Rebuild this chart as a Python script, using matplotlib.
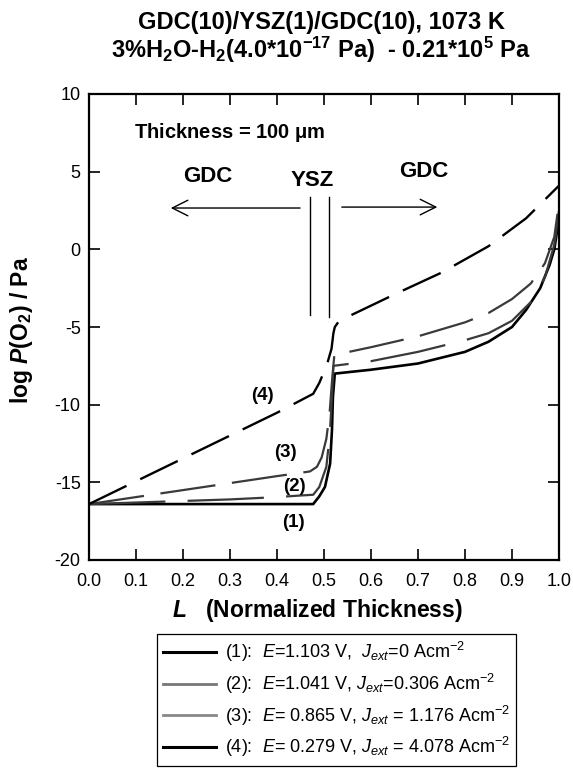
import matplotlib
matplotlib.use("Agg")
import matplotlib.pyplot as plt
from matplotlib.lines import Line2D

plt.rcParams['font.family'] = ['Liberation Sans', 'DejaVu Sans']
plt.rcParams['mathtext.fontset'] = 'custom'
plt.rcParams['mathtext.rm'] = 'Liberation Sans'
plt.rcParams['mathtext.it'] = 'Liberation Sans:italic'
plt.rcParams['mathtext.bf'] = 'Liberation Sans:bold'
plt.rcParams['mathtext.sf'] = 'Liberation Sans:bold:italic'
plt.rcParams['lines.scale_dashes'] = False
plt.rcParams['axes.unicode_minus'] = False

# ---- data ----
L1 = [0.0, 0.1, 0.2, 0.3, 0.4, 0.477, 0.49, 0.502, 0.513, 0.517, 0.519, 0.523,
      0.6, 0.7, 0.8, 0.85, 0.9, 0.93, 0.96, 0.98, 0.99, 1.0]
P1 = [-16.4, -16.4, -16.4, -16.4, -16.4, -16.4, -15.9, -15.3, -13.8, -11.6, -9.5, -8.0,
      -7.75, -7.35, -6.6, -5.95, -5.0, -3.9, -2.5, -1.0, 0.0, 2.0]

L2 = [0.0, 0.1, 0.2, 0.3, 0.4, 0.449, 0.477, 0.49, 0.505, 0.512, 0.516, 0.52,
      0.6, 0.7, 0.8, 0.85, 0.9, 0.94, 0.97, 0.99, 1.0]
P2 = [-16.4, -16.3, -16.2, -16.1, -15.95, -15.85, -15.8, -15.3, -14.0, -12.0, -10.0, -7.5,
      -7.2, -6.6, -5.85, -5.4, -4.6, -3.4, -1.8, 0.3, 2.5]

L3 = [0.0, 0.1, 0.2, 0.3, 0.4, 0.47, 0.485, 0.495, 0.505, 0.512, 0.517, 0.522,
      0.6, 0.7, 0.8, 0.85, 0.9, 0.94, 0.97, 0.99, 1.0]
P3 = [-16.4, -15.95, -15.5, -15.05, -14.6, -14.3, -14.0, -13.4, -12.2, -10.5, -8.5, -6.8,
      -6.3, -5.6, -4.7, -4.1, -3.2, -2.2, -0.9, 0.8, 3.0]

L4 = [0.0, 0.1, 0.2, 0.3, 0.4, 0.477, 0.49, 0.506, 0.516, 0.52, 0.523, 0.53, 0.55,
      0.65, 0.75, 0.85, 0.93, 1.0]
P4 = [-16.4, -14.93, -13.46, -11.99, -10.52, -9.3, -8.6, -7.45, -6.4, -5.4, -5.0, -4.7, -4.35,
      -2.9, -1.5, 0.2, 2.0, 4.1]

curve_labels = ['(1)', '(2)', '(3)', '(4)']
legend_texts = [
    r'(1):  $E$=1.103 V,  $J_{ext}$=0 Acm$^{-2}$',
    r'(2):  $E$=1.041 V, $J_{ext}$=0.306 Acm$^{-2}$',
    r'(3):  $E$= 0.865 V, $J_{ext}$ = 1.176 Acm$^{-2}$',
    r'(4):  $E$= 0.279 V, $J_{ext}$ = 4.078 Acm$^{-2}$',
]
xticks = [0.0, 0.1, 0.2, 0.3, 0.4, 0.5, 0.6, 0.7, 0.8, 0.9, 1.0]
yticks = [-20, -15, -10, -5, 0, 5, 10]

# ---- figure ----
W, H = 573, 768
fig = plt.figure(figsize=(W / 100, H / 100), dpi=100)
ax = fig.add_axes([89 / W, 1 - 560 / H, (559 - 89) / W, (560 - 94) / H])

ax.plot(L1, P1, color='black', lw=1.9, solid_joinstyle='round')
ax.plot(L2, P2, color='#3a3a3a', lw=1.6, dashes=(55, 16))
ax.plot(L3, P3, color='#3a3a3a', lw=1.6, dashes=(40, 12))
ax.plot(L4, P4, color='black', lw=1.7, dashes=(30, 11))

ax.set_xlim(0, 1)
ax.set_ylim(-20, 10)
ax.set_xticks(xticks)
ax.set_xticklabels([f'{v:.1f}' for v in xticks])
ax.set_yticks(yticks)
ax.set_yticklabels([str(v) for v in yticks])
ax.tick_params(direction='in', length=8, width=1.2, top=True, right=True,
               labelsize=13)
ax.tick_params(axis='x', pad=9)
ax.tick_params(axis='y', pad=6)
for s in ax.spines.values():
    s.set_linewidth(1.6)

# annotations
ax.text(0.30, 7.5, r'Thickness = 100 $\mathbf{\mu}$m', fontsize=14.5, fontweight='bold',
        ha='center', va='center')
ax.text(0.253, 4.7, 'GDC', fontsize=16, fontweight='bold', ha='center', va='center')
ax.text(0.475, 4.4, 'YSZ', fontsize=16, fontweight='bold', ha='center', va='center')
ax.text(0.713, 5.0, 'GDC', fontsize=16, fontweight='bold', ha='center', va='center')
ax.annotate('', xy=(0.168, 2.66), xytext=(0.455, 2.66),
            arrowprops=dict(arrowstyle='->', lw=1.0, mutation_scale=28, color='black'))
ax.annotate('', xy=(0.747, 2.72), xytext=(0.532, 2.72),
            arrowprops=dict(arrowstyle='->', lw=1.0, mutation_scale=28, color='black'))
ax.plot([0.470, 0.470], [3.4, -4.2], color='black', lw=1.0)
ax.plot([0.511, 0.511], [3.4, -4.35], color='black', lw=1.0)

label_pos = [(0.434, -17.6), (0.438, -15.3), (0.417, -13.05), (0.368, -9.4)]
for txt, (lx, ly) in zip(curve_labels, label_pos):
    ax.text(lx, ly, txt, fontsize=13.5, fontweight='bold', ha='center', va='center')

# titles and axis labels
fig.text(321 / W, 1 - 29 / H, 'GDC(10)/YSZ(1)/GDC(10), 1073 K', fontsize=17,
         fontweight='bold', ha='center', va='baseline')
fig.text(321 / W, 1 - 58 / H,
         r'3%H$_\mathbf{2}$O-H$_\mathbf{2}$(4.0*10$^\mathbf{-17}$ Pa)  - 0.21*10$^\mathbf{5}$ Pa',
         fontsize=17, fontweight='bold', ha='center', va='baseline')
fig.text(317 / W, 1 - 610 / H, r'$\mathsf{L}$   (Normalized Thickness)', fontsize=16.5,
         fontweight='bold', ha='center', va='center')
fig.text(22 / W, 1 - 330 / H, r'log $\mathsf{P}$(O$_\mathbf{2}$) / Pa', fontsize=16.5,
         fontweight='bold', ha='center', va='center', rotation=90)

# legend (proxy handles drawn as solid lines as in the reference)
handles = [Line2D([], [], color='black', lw=2.2),
           Line2D([], [], color='#777777', lw=2.0),
           Line2D([], [], color='#888888', lw=2.0),
           Line2D([], [], color='black', lw=2.2)]
leg = fig.legend(handles, legend_texts, loc='upper left',
                 bbox_to_anchor=(157 / W, 1 - 634 / H), fontsize=13,
                 frameon=True, fancybox=False, edgecolor='black', framealpha=1,
                 handlelength=2.9, handletextpad=0.5, labelspacing=0.42,
                 borderpad=0.35, borderaxespad=0)
leg.get_frame().set_linewidth(0.9)

fig.savefig('out.png', dpi=100)
